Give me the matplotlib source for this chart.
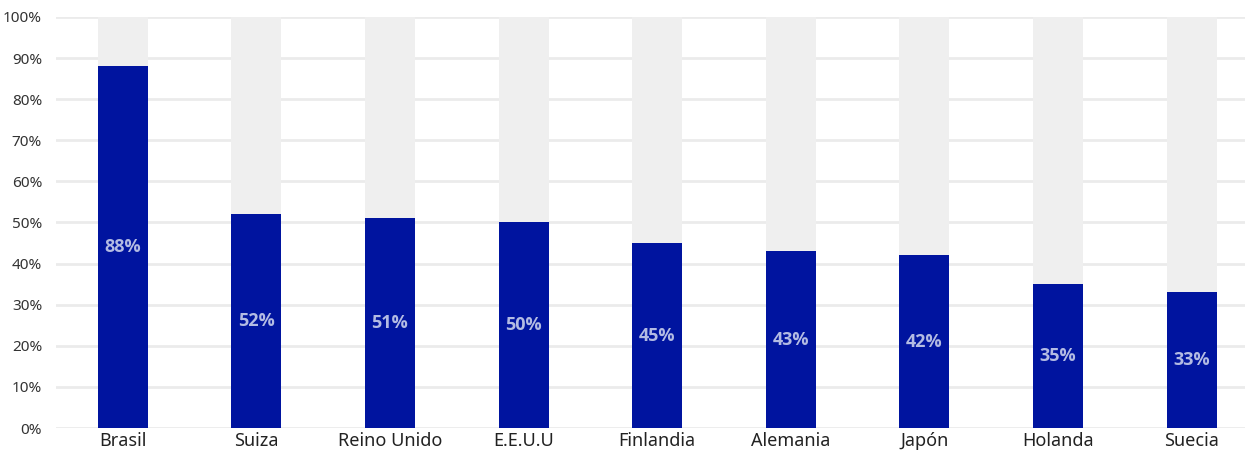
import matplotlib
matplotlib.use("Agg")
import matplotlib.pyplot as plt
from matplotlib import font_manager
import numpy as np

countries = ["Brasil", "Suiza", "Reino Unido", "E.E.U.U", "Finlandia",
             "Alemania", "Japón", "Holanda", "Suecia"]
shares = [88, 52, 51, 50, 45, 43, 42, 35, 33]
y_ticks = [0, 10, 20, 30, 40, 50, 60, 70, 80, 90, 100]

BLUE = "#00149f"
TRACK = "#efefef"
GRID = "#ebebeb"
LABEL = "#b3bbe3"

plt.rcParams["font.family"] = ["Noto Sans", "DejaVu Sans"]

# pick a family that really ships a bold face for the value labels
bold_family = "DejaVu Sans"
for fam in ["Open Sans", "Noto Sans", "Roboto", "Lato", "Liberation Sans"]:
    for f in font_manager.fontManager.ttflist:
        if f.name == fam and f.weight in (700, "bold") and f.style == "normal":
            bold_family = fam
            break
    if bold_family != "DejaVu Sans":
        break

fig = plt.figure(figsize=(12.45, 4.57), dpi=100)
ax = fig.add_axes([56 / 1245, 29 / 457, 1189 / 1245, 411 / 457])

x = np.arange(len(countries))
width = 0.375

ax.bar(x, [100] * len(x), width=width, color=TRACK, zorder=2)
ax.bar(x, shares, width=width, color=BLUE, zorder=3)

for xi, v in zip(x, shares):
    ax.text(xi, v / 2, f"{v}%", ha="center", va="center", color=LABEL,
            fontsize=13, fontweight="bold", family=bold_family, zorder=4)

ax.set_xlim(-0.5, 8.4)
ax.set_ylim(0, 100)
ax.set_yticks(y_ticks)
ax.set_yticklabels([f"{t}%" for t in y_ticks])
ax.set_xticks(x)
ax.set_xticklabels(countries)

ax.yaxis.grid(True, color=GRID, linewidth=2, zorder=1)
ax.set_axisbelow(True)
for s in ax.spines.values():
    s.set_visible(False)
ax.tick_params(axis="y", length=0, pad=10, labelsize=11, labelcolor="#333333")
ax.tick_params(axis="x", length=0, pad=3, labelsize=13, labelcolor="#222222")

fig.savefig("out.png", dpi=100)
